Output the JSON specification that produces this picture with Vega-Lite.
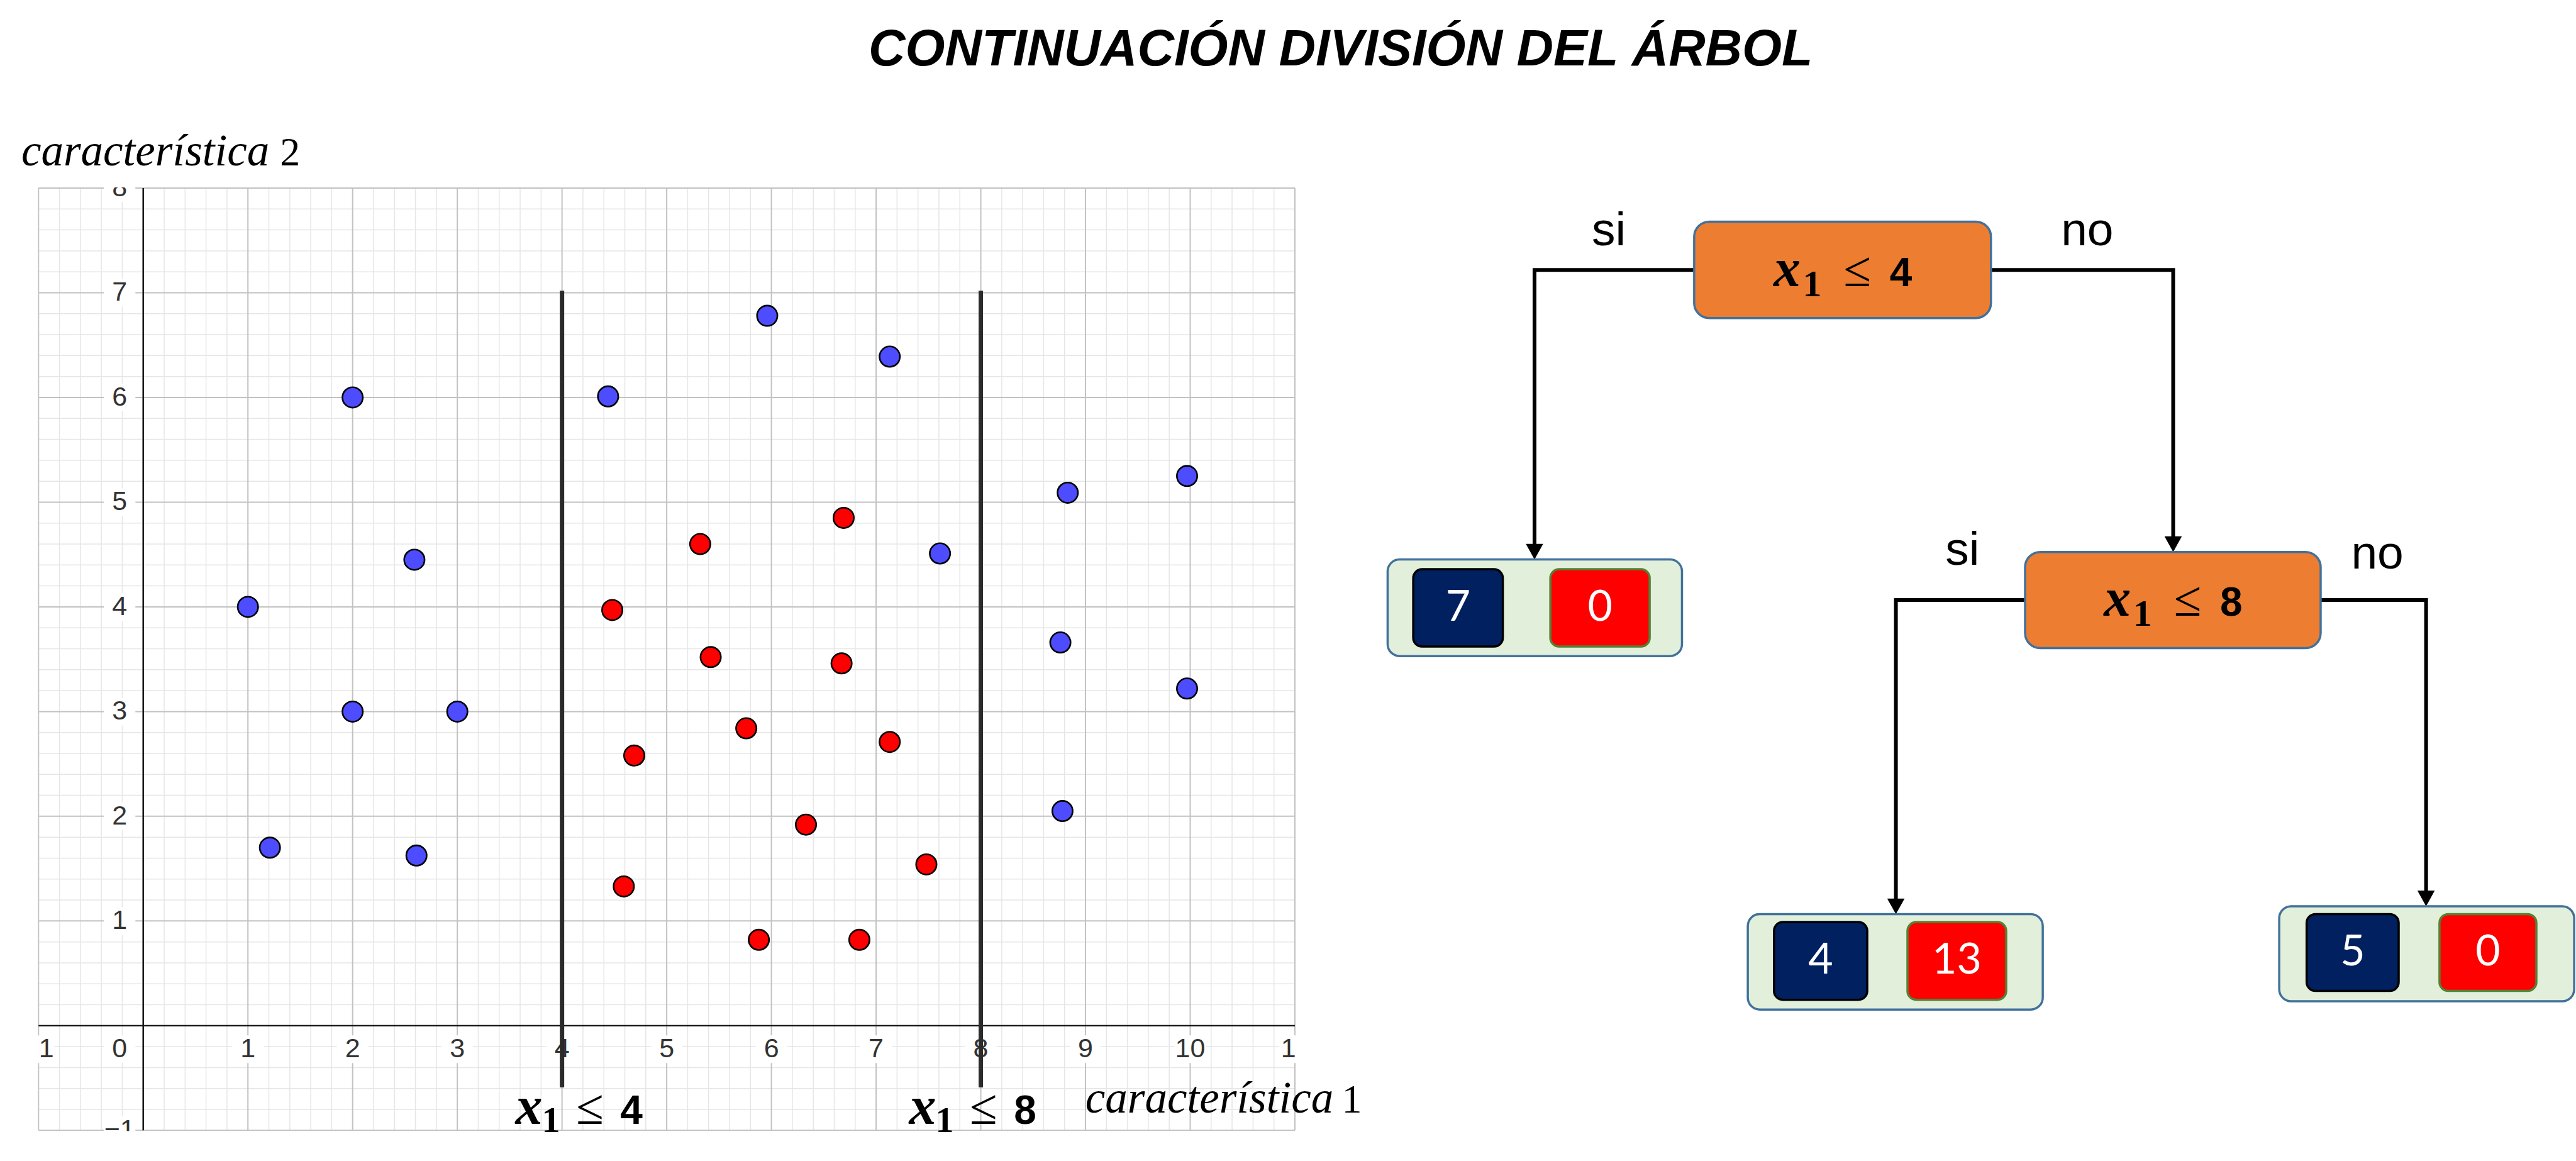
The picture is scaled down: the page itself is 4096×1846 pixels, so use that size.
{
  "$schema": "https://vega.github.io/schema/vega-lite/v6.json",
  "width": 4096,
  "height": 1846,
  "autosize": {"type": "none"},
  "padding": 0,
  "config": {"view": {"stroke": null}},
  "resolve": {"scale": {"x": "independent", "y": "independent"}},
  "layer": [
    {
      "layer": [
        {
          "data": {"values": [-0.8,-0.6,-0.4,-0.2,0.2,0.4,0.6,0.8,1.2,1.4,1.6,1.8,2.2,2.4,2.6,2.8,3.2,3.4,3.6,3.8,4.2,4.4,4.6,4.8,5.2,5.4,5.6,5.8,6.2,6.4,6.6,6.8,7.2,7.4,7.6,7.8,8.2,8.4,8.6,8.8,9.2,9.4,9.6,9.8,10.2,10.4,10.6,10.8]},
          "mark": {"type": "rule", "stroke": "#e6e6e6", "strokeWidth": 1.5},
          "encoding": {
            "x": {"field": "data", "type": "quantitative", "scale": {"domain": [-1.3679, 23.236], "nice": false, "zero": false}, "axis": null},
            "y": {"datum": -1, "type": "quantitative", "scale": {"domain": [-1.2925, 9.796], "nice": false, "zero": false}, "axis": null},
            "y2": {"datum": 8}
          }
        },
        {
          "data": {"values": [-0.8,-0.6,-0.4,-0.2,0.2,0.4,0.6,0.8,1.2,1.4,1.6,1.8,2.2,2.4,2.6,2.8,3.2,3.4,3.6,3.8,4.2,4.4,4.6,4.8,5.2,5.4,5.6,5.8,6.2,6.4,6.6,6.8,7.2,7.4,7.6,7.8]},
          "mark": {"type": "rule", "stroke": "#e6e6e6", "strokeWidth": 1.5},
          "encoding": {
            "y": {"field": "data", "type": "quantitative", "scale": {"domain": [-1.2925, 9.796], "nice": false, "zero": false}, "axis": null},
            "x": {"datum": -1, "type": "quantitative", "scale": {"domain": [-1.3679, 23.236], "nice": false, "zero": false}, "axis": null},
            "x2": {"datum": 11}
          }
        },
        {
          "data": {"values": [-1,0,1,2,3,4,5,6,7,8,9,10,11]},
          "mark": {"type": "rule", "stroke": "#c2c2c2", "strokeWidth": 2},
          "encoding": {
            "x": {"field": "data", "type": "quantitative", "scale": {"domain": [-1.3679, 23.236], "nice": false, "zero": false}, "axis": null},
            "y": {"datum": -1, "type": "quantitative", "scale": {"domain": [-1.2925, 9.796], "nice": false, "zero": false}, "axis": null},
            "y2": {"datum": 8}
          }
        },
        {
          "data": {"values": [-1,0,1,2,3,4,5,6,7,8]},
          "mark": {"type": "rule", "stroke": "#c2c2c2", "strokeWidth": 2},
          "encoding": {
            "y": {"field": "data", "type": "quantitative", "scale": {"domain": [-1.2925, 9.796], "nice": false, "zero": false}, "axis": null},
            "x": {"datum": -1, "type": "quantitative", "scale": {"domain": [-1.3679, 23.236], "nice": false, "zero": false}, "axis": null},
            "x2": {"datum": 11}
          }
        },
        {
          "data": {"values": [-1,1,2,3,4,5,6,7,8,9,10,11]},
          "mark": {"type": "point", "shape": "M-1,-0.88H1V0.88H-1Z", "size": 2500, "filled": true, "fill": "#ffffff", "strokeWidth": 0, "opacity": 1},
          "encoding": {
            "x": {"field": "data", "type": "quantitative", "scale": {"domain": [-1.3679, 23.236], "nice": false, "zero": false}, "axis": null},
            "y": {"datum": -0.225, "type": "quantitative", "scale": {"domain": [-1.2925, 9.796], "nice": false, "zero": false}, "axis": null}
          }
        },
        {
          "data": {"values": [-1,1,2,3,4,5,6,7,8]},
          "mark": {"type": "point", "shape": "M-1,-0.88H1V0.88H-1Z", "size": 2500, "filled": true, "fill": "#ffffff", "strokeWidth": 0, "opacity": 1},
          "encoding": {
            "y": {"field": "data", "type": "quantitative", "scale": {"domain": [-1.2925, 9.796], "nice": false, "zero": false}, "axis": null},
            "x": {"datum": -0.225, "type": "quantitative", "scale": {"domain": [-1.3679, 23.236], "nice": false, "zero": false}, "axis": null}
          }
        },
        {
          "data": {"values": [0]},
          "mark": {"type": "point", "shape": "M-1,-0.88H1V0.88H-1Z", "size": 2500, "filled": true, "fill": "#ffffff", "strokeWidth": 0, "opacity": 1},
          "encoding": {
            "x": {"datum": -0.225, "type": "quantitative", "scale": {"domain": [-1.3679, 23.236], "nice": false, "zero": false}, "axis": null},
            "y": {"datum": -0.225, "type": "quantitative", "scale": {"domain": [-1.2925, 9.796], "nice": false, "zero": false}, "axis": null}
          }
        },
        {
          "data": {"values": [-1,1,2,3,4,5,6,7,8,9,10,11]},
          "mark": {"type": "text", "font": "Liberation Sans", "fontSize": 43, "fill": "#333333", "align": "center", "baseline": "middle"},
          "encoding": {
            "x": {"field": "data", "type": "quantitative", "scale": {"domain": [-1.3679, 23.236], "nice": false, "zero": false}, "axis": null},
            "y": {"datum": -0.225, "type": "quantitative", "scale": {"domain": [-1.2925, 9.796], "nice": false, "zero": false}, "axis": null},
            "text": {"field": "data", "type": "quantitative", "format": "d"}
          }
        },
        {
          "data": {"values": [-1,1,2,3,4,5,6,7,8]},
          "mark": {"type": "text", "font": "Liberation Sans", "fontSize": 43, "fill": "#333333", "align": "center", "baseline": "middle"},
          "encoding": {
            "y": {"field": "data", "type": "quantitative", "scale": {"domain": [-1.2925, 9.796], "nice": false, "zero": false}, "axis": null},
            "x": {"datum": -0.225, "type": "quantitative", "scale": {"domain": [-1.3679, 23.236], "nice": false, "zero": false}, "axis": null},
            "text": {"field": "data", "type": "quantitative", "format": "d"}
          }
        },
        {
          "data": {"values": [0]},
          "mark": {"type": "text", "font": "Liberation Sans", "fontSize": 43, "fill": "#333333", "align": "center", "baseline": "middle"},
          "encoding": {
            "x": {"datum": -0.225, "type": "quantitative", "scale": {"domain": [-1.3679, 23.236], "nice": false, "zero": false}, "axis": null},
            "y": {"datum": -0.225, "type": "quantitative", "scale": {"domain": [-1.2925, 9.796], "nice": false, "zero": false}, "axis": null},
            "text": {"field": "data", "type": "quantitative", "format": "d"}
          }
        },
        {
          "data": {"values": [{"x1": -1.3679, "x2": -1.006, "y1": -1.2925, "y2": 8.14}, {"x1": -1.3679, "x2": 11.4, "y1": 8.006, "y2": 8.14}, {"x1": -1.3679, "x2": 11.4, "y1": -1.2, "y2": -1.006}, {"x1": 11.006, "x2": 11.4, "y1": -0.42, "y2": -0.04}]},
          "mark": {"type": "rect", "fill": "#ffffff", "strokeWidth": 0},
          "encoding": {
            "x": {"field": "x1", "type": "quantitative", "scale": {"domain": [-1.3679, 23.236], "nice": false, "zero": false}, "axis": null},
            "x2": {"field": "x2"},
            "y": {"field": "y1", "type": "quantitative", "scale": {"domain": [-1.2925, 9.796], "nice": false, "zero": false}, "axis": null},
            "y2": {"field": "y2"}
          }
        },
        {
          "data": {"values": [0]},
          "mark": {"type": "rule", "stroke": "#111111", "strokeWidth": 2.4},
          "encoding": {
            "x": {"field": "data", "type": "quantitative", "scale": {"domain": [-1.3679, 23.236], "nice": false, "zero": false}, "axis": null},
            "y": {"datum": -1, "type": "quantitative", "scale": {"domain": [-1.2925, 9.796], "nice": false, "zero": false}, "axis": null},
            "y2": {"datum": 8}
          }
        },
        {
          "data": {"values": [0]},
          "mark": {"type": "rule", "stroke": "#111111", "strokeWidth": 2.4},
          "encoding": {
            "y": {"field": "data", "type": "quantitative", "scale": {"domain": [-1.2925, 9.796], "nice": false, "zero": false}, "axis": null},
            "x": {"datum": -1, "type": "quantitative", "scale": {"domain": [-1.3679, 23.236], "nice": false, "zero": false}, "axis": null},
            "x2": {"datum": 11}
          }
        },
        {
          "data": {"values": [4, 8]},
          "mark": {"type": "rule", "stroke": "#2b2b2b", "strokeWidth": 7},
          "encoding": {
            "x": {"field": "data", "type": "quantitative", "scale": {"domain": [-1.3679, 23.236], "nice": false, "zero": false}, "axis": null},
            "y": {"datum": -0.59, "type": "quantitative", "scale": {"domain": [-1.2925, 9.796], "nice": false, "zero": false}, "axis": null},
            "y2": {"datum": 7.02}
          }
        },
        {
          "data": {"values": [
            {"x": 1.0, "y": 4.0, "c": "azul"},
            {"x": 2.0, "y": 6.0, "c": "azul"},
            {"x": 2.59, "y": 4.45, "c": "azul"},
            {"x": 2.0, "y": 3.0, "c": "azul"},
            {"x": 3.0, "y": 3.0, "c": "azul"},
            {"x": 1.21, "y": 1.7, "c": "azul"},
            {"x": 2.61, "y": 1.625, "c": "azul"},
            {"x": 4.44, "y": 6.01, "c": "azul"},
            {"x": 5.96, "y": 6.78, "c": "azul"},
            {"x": 7.13, "y": 6.39, "c": "azul"},
            {"x": 7.61, "y": 4.51, "c": "azul"},
            {"x": 8.83, "y": 5.09, "c": "azul"},
            {"x": 9.97, "y": 5.25, "c": "azul"},
            {"x": 8.76, "y": 3.66, "c": "azul"},
            {"x": 9.97, "y": 3.22, "c": "azul"},
            {"x": 8.78, "y": 2.05, "c": "azul"},
            {"x": 6.69, "y": 4.85, "c": "rojo"},
            {"x": 5.32, "y": 4.6, "c": "rojo"},
            {"x": 4.48, "y": 3.97, "c": "rojo"},
            {"x": 5.42, "y": 3.52, "c": "rojo"},
            {"x": 6.67, "y": 3.46, "c": "rojo"},
            {"x": 5.76, "y": 2.84, "c": "rojo"},
            {"x": 7.13, "y": 2.71, "c": "rojo"},
            {"x": 4.69, "y": 2.58, "c": "rojo"},
            {"x": 6.33, "y": 1.92, "c": "rojo"},
            {"x": 7.48, "y": 1.54, "c": "rojo"},
            {"x": 4.59, "y": 1.33, "c": "rojo"},
            {"x": 5.88, "y": 0.82, "c": "rojo"},
            {"x": 6.84, "y": 0.82, "c": "rojo"}
          ]},
          "mark": {"type": "point", "filled": true, "size": 1050, "stroke": "#000000", "strokeWidth": 2.6, "opacity": 1},
          "encoding": {
            "x": {"field": "x", "type": "quantitative", "scale": {"domain": [-1.3679, 23.236], "nice": false, "zero": false}, "axis": null},
            "y": {"field": "y", "type": "quantitative", "scale": {"domain": [-1.2925, 9.796], "nice": false, "zero": false}, "axis": null},
            "fill": {"field": "c", "type": "nominal", "scale": {"domain": ["azul", "rojo"], "range": ["#4d4dff", "#ff0000"]}, "legend": null}
          }
        },
        {
          "data": {"values": [{"a": 4.267, "num": "4"}, {"a": 8.027, "num": "8"}]},
          "layer": [
            {"mark": {"type": "text", "text": "x", "font": "Liberation Serif", "fontStyle": "italic", "fontWeight": "bold", "fontSize": 86, "align": "center", "baseline": "alphabetic", "dx": -97, "fill": "#000000"}},
            {"mark": {"type": "text", "text": "1", "font": "Liberation Serif", "fontWeight": "bold", "fontSize": 58, "align": "center", "baseline": "alphabetic", "dx": -62, "dy": 13, "fill": "#000000"}},
            {"mark": {"type": "text", "text": "≤", "font": "Liberation Serif", "fontSize": 80, "align": "center", "baseline": "alphabetic", "fill": "#000000"}},
            {"mark": {"type": "text", "font": "Liberation Sans", "fontWeight": "bold", "fontSize": 64, "align": "center", "baseline": "alphabetic", "dx": 66, "fill": "#000000"}, "encoding": {"text": {"field": "num"}}}
          ],
          "encoding": {
            "x": {"field": "a", "type": "quantitative", "scale": {"domain": [-1.3679, 23.236], "nice": false, "zero": false}, "axis": null},
            "y": {"datum": -0.937, "type": "quantitative", "scale": {"domain": [-1.2925, 9.796], "nice": false, "zero": false}, "axis": null}
          }
        },
        {
          "data": {"values": [
            {"w": "característica", "n": "2", "wx": -1.164, "nx": 1.307, "y": 8.217},
            {"w": "característica", "n": "1", "wx": 8.999, "nx": 11.448, "y": -0.827}
          ]},
          "layer": [
            {
              "mark": {"type": "text", "font": "Liberation Serif", "fontStyle": "italic", "fontSize": 71, "align": "left", "baseline": "alphabetic", "fill": "#000000"},
              "encoding": {
                "x": {"field": "wx", "type": "quantitative", "scale": {"domain": [-1.3679, 23.236], "nice": false, "zero": false}, "axis": null},
                "text": {"field": "w"}
              }
            },
            {
              "mark": {"type": "text", "font": "Liberation Serif", "fontSize": 64, "align": "left", "baseline": "alphabetic", "fill": "#000000"},
              "encoding": {
                "x": {"field": "nx", "type": "quantitative", "scale": {"domain": [-1.3679, 23.236], "nice": false, "zero": false}, "axis": null},
                "text": {"field": "n"}
              }
            }
          ],
          "encoding": {
            "y": {"field": "y", "type": "quantitative", "scale": {"domain": [-1.2925, 9.796], "nice": false, "zero": false}, "axis": null}
          }
        }
      ]
    },
    {
      "layer": [
        {
          "data": {"values": [
            {"e": 1, "i": 0, "u": 58.0, "v": 13.44}, {"e": 1, "i": 1, "u": 31.8, "v": 13.44}, {"e": 1, "i": 2, "u": 31.8, "v": 59.5},
            {"e": 2, "i": 0, "u": 106.7, "v": 13.44}, {"e": 2, "i": 1, "u": 136.6, "v": 13.44}, {"e": 2, "i": 2, "u": 136.6, "v": 58.3},
            {"e": 3, "i": 0, "u": 112.3, "v": 67.6}, {"e": 3, "i": 1, "u": 91.1, "v": 67.6}, {"e": 3, "i": 2, "u": 91.1, "v": 117.7},
            {"e": 4, "i": 0, "u": 160.8, "v": 67.6}, {"e": 4, "i": 1, "u": 178.1, "v": 67.6}, {"e": 4, "i": 2, "u": 178.1, "v": 116.4}
          ]},
          "mark": {"type": "line", "stroke": "#000000", "strokeWidth": 6, "strokeJoin": "miter", "strokeCap": "butt", "interpolate": "linear"},
          "encoding": {
            "x": {"field": "u", "type": "quantitative", "scale": {"domain": [-220.0, 202.7], "nice": false, "zero": false}, "axis": null},
            "y": {"field": "v", "type": "quantitative", "scale": {"domain": [-30.86, 159.645], "nice": false, "zero": false, "reverse": true}, "axis": null},
            "detail": {"field": "e", "type": "nominal"},
            "order": {"field": "i", "type": "quantitative"}
          }
        },
        {
          "data": {"values": [
            {"u": 31.8, "v": 60.94}, {"u": 136.6, "v": 59.71}, {"u": 91.1, "v": 119.14}, {"u": 178.1, "v": 117.84}
          ]},
          "mark": {"type": "point", "shape": "M-1,-1.8L1,-1.8L0,0Z", "size": 762, "filled": true, "fill": "#000000", "strokeWidth": 0, "opacity": 1},
          "encoding": {
            "x": {"field": "u", "type": "quantitative", "scale": {"domain": [-220.0, 202.7], "nice": false, "zero": false}, "axis": null},
            "y": {"field": "v", "type": "quantitative", "scale": {"domain": [-30.86, 159.645], "nice": false, "zero": false, "reverse": true}, "axis": null}
          }
        },
        {
          "data": {"values": [
            {"n": "raiz", "u1": 58.0, "u2": 106.7, "v1": 5.52, "v2": 21.34},
            {"n": "nodo2", "u1": 112.3, "u2": 160.8, "v1": 59.71, "v2": 75.49}
          ]},
          "mark": {"type": "rect", "fill": "#ED7D31", "stroke": "#41719C", "strokeWidth": 3.5, "cornerRadius": 24},
          "encoding": {
            "x": {"field": "u1", "type": "quantitative", "scale": {"domain": [-220.0, 202.7], "nice": false, "zero": false}, "axis": null},
            "x2": {"field": "u2"},
            "y": {"field": "v1", "type": "quantitative", "scale": {"domain": [-30.86, 159.645], "nice": false, "zero": false, "reverse": true}, "axis": null},
            "y2": {"field": "v2"}
          }
        },
        {
          "data": {"values": [
            {"h": 1, "u1": 7.7, "u2": 56.0, "v1": 60.94, "v2": 76.79},
            {"h": 2, "u1": 66.8, "u2": 115.2, "v1": 119.14, "v2": 134.79},
            {"h": 3, "u1": 154.0, "u2": 202.4, "v1": 117.84, "v2": 133.44}
          ]},
          "mark": {"type": "rect", "fill": "#E2EFDA", "stroke": "#41719C", "strokeWidth": 3.5, "cornerRadius": 19},
          "encoding": {
            "x": {"field": "u1", "type": "quantitative", "scale": {"domain": [-220.0, 202.7], "nice": false, "zero": false}, "axis": null},
            "x2": {"field": "u2"},
            "y": {"field": "v1", "type": "quantitative", "scale": {"domain": [-30.86, 159.645], "nice": false, "zero": false, "reverse": true}, "axis": null},
            "y2": {"field": "v2"}
          }
        },
        {
          "data": {"values": [
            {"h": 1, "c": "azul", "n": 7, "u1": 11.9, "u2": 26.6, "v1": 62.54, "v2": 75.24, "uc": 19.25, "vc": 68.89},
            {"h": 1, "c": "rojo", "n": 0, "u1": 34.4, "u2": 50.7, "v1": 62.54, "v2": 75.24, "uc": 42.55, "vc": 68.89},
            {"h": 2, "c": "azul", "n": 4, "u1": 71.1, "u2": 86.4, "v1": 120.44, "v2": 133.19, "uc": 78.75, "vc": 126.8},
            {"h": 2, "c": "rojo", "n": 13, "u1": 93.0, "u2": 109.2, "v1": 120.44, "v2": 133.19, "uc": 101.1, "vc": 126.8},
            {"h": 3, "c": "azul", "n": 5, "u1": 158.5, "u2": 173.6, "v1": 119.14, "v2": 131.74, "uc": 166.05, "vc": 125.44},
            {"h": 3, "c": "rojo", "n": 0, "u1": 180.3, "u2": 196.2, "v1": 119.14, "v2": 131.74, "uc": 188.25, "vc": 125.44}
          ]},
          "layer": [
            {
              "transform": [{"filter": "datum.c === 'azul'"}],
              "mark": {"type": "rect", "fill": "#002060", "stroke": "#000000", "strokeWidth": 3.5, "cornerRadius": 14},
              "encoding": {
                "x": {"field": "u1", "type": "quantitative", "scale": {"domain": [-220.0, 202.7], "nice": false, "zero": false}, "axis": null},
                "x2": {"field": "u2"},
                "y": {"field": "v1", "type": "quantitative", "scale": {"domain": [-30.86, 159.645], "nice": false, "zero": false, "reverse": true}, "axis": null},
                "y2": {"field": "v2"}
              }
            },
            {
              "transform": [{"filter": "datum.c === 'rojo'"}],
              "mark": {"type": "rect", "fill": "#FF0000", "stroke": "#548235", "strokeWidth": 3.5, "cornerRadius": 14},
              "encoding": {
                "x": {"field": "u1", "type": "quantitative", "scale": {"domain": [-220.0, 202.7], "nice": false, "zero": false}, "axis": null},
                "x2": {"field": "u2"},
                "y": {"field": "v1", "type": "quantitative", "scale": {"domain": [-30.86, 159.645], "nice": false, "zero": false, "reverse": true}, "axis": null},
                "y2": {"field": "v2"}
              }
            },
            {
              "mark": {"type": "text", "font": "Lato", "fontSize": 68, "fill": "#ffffff", "align": "center", "baseline": "middle"},
              "encoding": {
                "x": {"field": "uc", "type": "quantitative", "scale": {"domain": [-220.0, 202.7], "nice": false, "zero": false}, "axis": null},
                "y": {"field": "vc", "type": "quantitative", "scale": {"domain": [-30.86, 159.645], "nice": false, "zero": false, "reverse": true}, "axis": null},
                "text": {"field": "n", "type": "quantitative", "format": "d"}
              }
            }
          ]
        },
        {
          "data": {"values": [{"u": 84.8, "v": 16.14, "num": "4"}, {"u": 139.0, "v": 70.2, "num": "8"}]},
          "layer": [
            {"mark": {"type": "text", "text": "x", "font": "Liberation Serif", "fontStyle": "italic", "fontWeight": "bold", "fontSize": 86, "align": "center", "baseline": "alphabetic", "dx": -112, "fill": "#000000"}},
            {"mark": {"type": "text", "text": "1", "font": "Liberation Serif", "fontWeight": "bold", "fontSize": 60, "align": "center", "baseline": "alphabetic", "dx": -72, "dy": 16, "fill": "#000000"}},
            {"mark": {"type": "text", "text": "≤", "font": "Liberation Serif", "fontSize": 80, "align": "center", "baseline": "alphabetic", "fill": "#000000"}},
            {"mark": {"type": "text", "font": "Liberation Sans", "fontWeight": "bold", "fontSize": 64, "align": "center", "baseline": "alphabetic", "dx": 69, "fill": "#000000"}, "encoding": {"text": {"field": "num"}}}
          ],
          "encoding": {
            "x": {"field": "u", "type": "quantitative", "scale": {"domain": [-220.0, 202.7], "nice": false, "zero": false}, "axis": null},
            "y": {"field": "v", "type": "quantitative", "scale": {"domain": [-30.86, 159.645], "nice": false, "zero": false, "reverse": true}, "axis": null}
          }
        },
        {
          "data": {"values": [
            {"t": "si", "u": 44.0, "v": 9.34},
            {"t": "no", "u": 122.5, "v": 9.34},
            {"t": "si", "u": 102.0, "v": 61.84},
            {"t": "no", "u": 170.1, "v": 62.44}
          ]},
          "mark": {"type": "text", "font": "Liberation Sans", "fontSize": 75, "fill": "#000000", "align": "center", "baseline": "alphabetic"},
          "encoding": {
            "x": {"field": "u", "type": "quantitative", "scale": {"domain": [-220.0, 202.7], "nice": false, "zero": false}, "axis": null},
            "y": {"field": "v", "type": "quantitative", "scale": {"domain": [-30.86, 159.645], "nice": false, "zero": false, "reverse": true}, "axis": null},
            "text": {"field": "t"}
          }
        },
        {
          "data": {"values": [{"t": "CONTINUACIÓN DIVISIÓN DEL ÁRBOL", "u": 0, "v": -20.16}]},
          "mark": {"type": "text", "font": "Liberation Sans", "fontStyle": "italic", "fontWeight": "bold", "fontSize": 81, "fill": "#000000", "align": "center", "baseline": "alphabetic"},
          "encoding": {
            "x": {"field": "u", "type": "quantitative", "scale": {"domain": [-220.0, 202.7], "nice": false, "zero": false}, "axis": null},
            "y": {"field": "v", "type": "quantitative", "scale": {"domain": [-30.86, 159.645], "nice": false, "zero": false, "reverse": true}, "axis": null},
            "text": {"field": "t"}
          }
        }
      ]
    }
  ]
}
